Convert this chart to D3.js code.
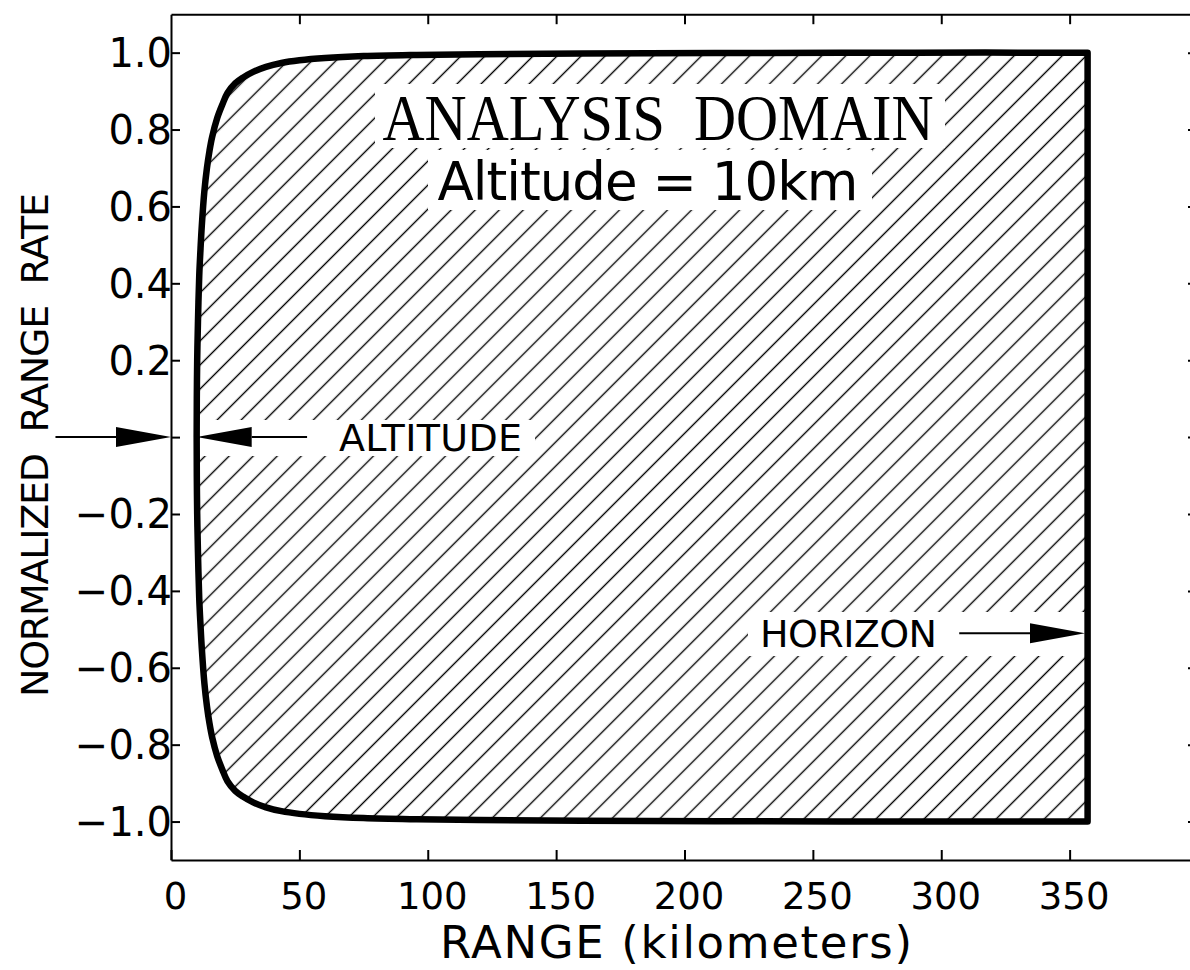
<!DOCTYPE html>
<html>
<head>
<meta charset="utf-8">
<script src="https://cdn.jsdelivr.net/npm/d3@7"></script>
<style>
  body { margin: 0; background: #fff; }
  svg { display: block; }
  text { font-family: "DejaVu Sans", sans-serif; fill: #000; white-space: pre; }
</style>
</head>
<body>
<svg id="chart" width="1190" height="970"></svg>
<script>
// boundary of the analysis domain (range in km)
const rangeKm = [10, 10.05, 10.2, 10.5, 11, 11.5, 12, 13, 14, 15, 16, 18, 20, 22, 25, 28, 32, 37, 43, 50, 60, 75, 95, 120, 160, 220, 290, 357]
const upperRate = [0, 0.10, 0.20, 0.30, 0.42, 0.49, 0.55, 0.64, 0.70, 0.745, 0.78, 0.83, 0.865, 0.895, 0.92, 0.935, 0.95, 0.963, 0.973, 0.98, 0.986, 0.991, 0.994, 0.996, 0.998, 0.999, 1.0, 1.0]
const lowerRate = [0, -0.10, -0.20, -0.30, -0.42, -0.49, -0.55, -0.64, -0.70, -0.745, -0.78, -0.83, -0.865, -0.895, -0.92, -0.935, -0.95, -0.963, -0.973, -0.98, -0.986, -0.991, -0.994, -0.996, -0.998, -0.999, -1.0, -1.0]

const xTicks = [0, 50, 100, 150, 200, 250, 300, 350]
const xTickLabels = ['0', '50', '100', '150', '200', '250', '300', '350']
const yTicks = [-1.0, -0.8, -0.6, -0.4, -0.2, 0, 0.2, 0.4, 0.6, 0.8, 1.0]
const yTickLabels = ['\u22121.0', '\u22120.8', '\u22120.6', '\u22120.4', '\u22120.2', '', '0.2', '0.4', '0.6', '0.8', '1.0']

// annotation arrows: tail range, tip range, rate
const arrowTail = [-45, 53, 307]
const arrowTip = [0, 10, 356]
const arrowRate = [0, 0, -0.51]

const svg = d3.select('#chart')
const x = d3.scaleLinear().domain([0, 400]).range([171, 1198])
const y = d3.scaleLinear().domain([-1.1, 1.1]).range([860, 14.2])

// hatch pattern
const defs = svg.append('defs')
const pat = defs.append('pattern')
  .attr('id', 'hatch')
  .attr('patternUnits', 'userSpaceOnUse')
  .attr('width', 17).attr('height', 10)
  .attr('patternTransform', 'rotate(45)')
pat.append('line')
  .attr('x1', 8.5).attr('y1', -1).attr('x2', 8.5).attr('y2', 11)
  .attr('stroke', '#000').attr('stroke-width', 1.4)

const pts = rangeKm.map((r, i) => [r, upperRate[i]]).reverse()
  .concat(rangeKm.slice(1).map((r, i) => [r, lowerRate[i + 1]]))
const line = d3.line()
  .x(d => x(d[0]))
  .y(d => y(d[1]))
  .curve(d3.curveCatmullRom.alpha(0.5))
const domainPath = line(pts) + 'Z'

defs.append('clipPath').attr('id', 'dom')
  .append('path').attr('d', domainPath)

svg.append('rect')
  .attr('x', x(0)).attr('y', y(1.1))
  .attr('width', x(400) - x(0)).attr('height', y(-1.1) - y(1.1))
  .attr('fill', 'url(#hatch)')
  .attr('clip-path', 'url(#dom)')

// white boxes behind the labels inside the domain
const knock = [
  [375, 84, 570, 64],
  [428, 150, 444, 60],
  [200, 420, 335, 36],
  [748, 612, 338, 44]
]
svg.selectAll('rect.knock').data(knock).enter().append('rect')
  .attr('class', 'knock')
  .attr('x', d => d[0]).attr('y', d => d[1])
  .attr('width', d => d[2]).attr('height', d => d[3])
  .attr('fill', '#fff')

svg.append('path')
  .attr('d', domainPath)
  .attr('fill', 'none')
  .attr('stroke', '#000')
  .attr('stroke-width', 6.5)
  .attr('stroke-linejoin', 'round')

// axes
const gLeft = svg.append('g').attr('transform', `translate(${x(0)},0)`)
  .call(d3.axisLeft(y).tickValues(yTicks).tickSize(-9).tickSizeOuter(0).tickFormat(''))
const gRight = svg.append('g').attr('transform', `translate(${x(400)},0)`)
  .call(d3.axisRight(y).tickValues(yTicks).tickSize(-10).tickSizeOuter(0).tickFormat(''))
const gBottom = svg.append('g').attr('transform', `translate(0,${y(-1.1)})`)
  .call(d3.axisBottom(x).tickValues(xTicks).tickSize(-10).tickSizeOuter(0).tickPadding(23)
    .tickFormat((d, i) => xTickLabels[i]))
const gTop = svg.append('g').attr('transform', `translate(0,${y(1.1)})`)
  .call(d3.axisTop(x).tickValues(xTicks.slice(1)).tickSize(-10).tickSizeOuter(0).tickFormat(''))

;[gLeft, gRight, gBottom, gTop].forEach(g => {
  g.selectAll('.domain').attr('stroke', '#000').attr('stroke-width', 2)
  g.selectAll('.tick line').attr('stroke', '#000').attr('stroke-width', 2)
})
gBottom.selectAll('text')
  .attr('dx', 4)
  .style('font-family', '"DejaVu Sans", sans-serif')
  .style('font-size', '37px')
  .attr('fill', '#000')

// y tick labels, set flush against the axis
svg.append('g').selectAll('text')
  .data(yTicks.map((v, i) => ({ v, label: yTickLabels[i] })).filter(d => d.label))
  .enter().append('text')
  .attr('x', x(0) + 1)
  .attr('y', d => y(d.v))
  .attr('dy', '0.36em')
  .attr('text-anchor', 'end')
  .style('font-size', '40px')
  .text(d => d.label)

// arrows
arrowTail.forEach((t, i) => {
  const x0 = x(t), x1 = x(arrowTip[i]), yy = y(arrowRate[i])
  const dir = x1 > x0 ? 1 : -1
  const len = 55, hw = 10
  svg.append('line')
    .attr('x1', x0).attr('y1', yy).attr('x2', x1 - dir * len).attr('y2', yy)
    .attr('stroke', '#000').attr('stroke-width', 2)
  svg.append('path')
    .attr('d', `M${x1},${yy}L${x1 - dir * len},${yy - hw}L${x1 - dir * len},${yy + hw}Z`)
    .attr('fill', '#000')
})

// labels
svg.append('text')
  .attr('x', 658).attr('y', 140)
  .attr('text-anchor', 'middle')
  .attr('textLength', 551).attr('lengthAdjust', 'spacingAndGlyphs')
  .style('font-family', '"Liberation Serif", "DejaVu Serif", serif')
  .style('font-size', '66px')
  .text('ANALYSIS  DOMAIN')

svg.append('text')
  .attr('x', 648).attr('y', 200)
  .attr('text-anchor', 'middle')
  .attr('textLength', 421).attr('lengthAdjust', 'spacing')
  .style('font-size', '53px')
  .text('Altitude = 10km')

svg.append('text')
  .attr('x', 339).attr('y', y(0) + 14)
  .attr('textLength', 183).attr('lengthAdjust', 'spacing')
  .style('font-size', '38px')
  .text('ALTITUDE')

svg.append('text')
  .attr('x', 760).attr('y', y(-0.51) + 14)
  .attr('textLength', 177).attr('lengthAdjust', 'spacing')
  .style('font-size', '38px')
  .text('HORIZON')

svg.append('text')
  .attr('x', 676).attr('y', 958)
  .attr('text-anchor', 'middle')
  .attr('textLength', 472).attr('lengthAdjust', 'spacing')
  .style('font-size', '45px')
  .text('RANGE (kilometers)')

svg.append('text')
  .attr('transform', 'translate(48,445) rotate(-90)')
  .attr('text-anchor', 'middle')
  .attr('textLength', 504).attr('lengthAdjust', 'spacing')
  .style('font-size', '38px')
  .text('NORMALIZED  RANGE  RATE')
</script>
</body>
</html>
